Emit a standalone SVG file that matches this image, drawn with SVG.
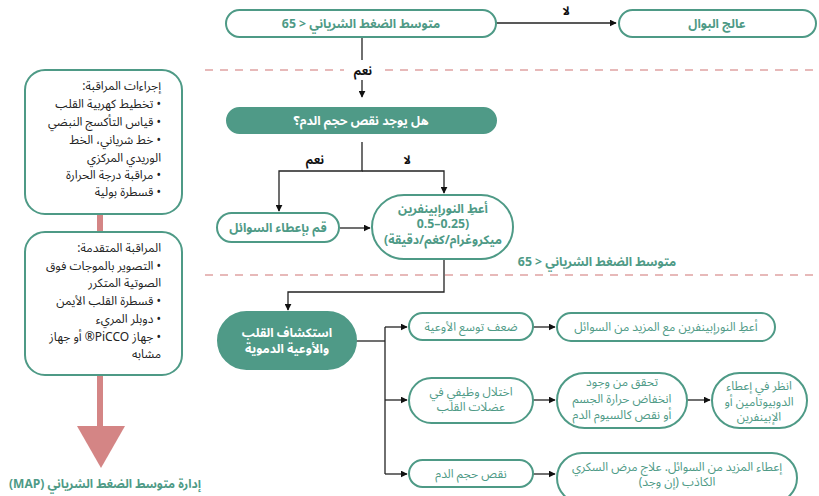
<svg xmlns="http://www.w3.org/2000/svg" width="819" height="496" viewBox="0 0 819 496">
<defs>
<style>
text{font-family:"Noto Sans Arabic","Noto Sans","DejaVu Sans",sans-serif;}
.n{fill:#fff;stroke:#4e9a86;stroke-width:2;}
.f{fill:#4f9a87;stroke:#4f9a87;stroke-width:2;}
.tl{fill:#4e9a86;font-size:12.3px;font-weight:bold;text-anchor:middle;}
.tw{fill:#fff;font-size:12.3px;font-weight:bold;text-anchor:middle;}
.tr{fill:#4e9a86;font-size:12px;text-anchor:middle;}
.lb{fill:#111;font-size:12px;font-weight:bold;text-anchor:middle;}
.pl{fill:#222;font-size:12px;}
.c{fill:none;stroke:#222;stroke-width:1.3;}
.d{fill:none;stroke:#e0a3a3;stroke-width:1.5;stroke-dasharray:8 7;}
</style>
<marker id="a" viewBox="0 0 10 10" refX="9" refY="5" markerWidth="7" markerHeight="7" orient="auto" markerUnits="userSpaceOnUse">
<path d="M0,0 L10,5 L0,10 z" fill="#111"/>
</marker>
</defs>
<rect width="819" height="496" fill="#fff"/>

<g id="guides">
<line class="d" x1="205" y1="70" x2="819" y2="70"/>
<line class="d" x1="205" y1="275" x2="819" y2="275"/>
</g>

<g id="connectors">
<line class="c" x1="496" y1="23" x2="616" y2="23" marker-end="url(#a)"/>
<line class="c" x1="362" y1="37" x2="362" y2="97" marker-end="url(#a)"/>
<polyline class="c" points="362,142 362,171 279,171 279,211" marker-end="url(#a)"/>
<polyline class="c" points="362,171 444,171 444,193" marker-end="url(#a)"/>
<line class="c" x1="340" y1="228" x2="370" y2="228" marker-end="url(#a)"/>
<polyline class="c" points="444,259 444,292 288,292 288,310" marker-end="url(#a)"/>
<polyline class="c" points="356,341 385,341"/>
<line class="c" x1="385" y1="327" x2="385" y2="474"/>
<line class="c" x1="385" y1="327" x2="407" y2="327" marker-end="url(#a)"/>
<line class="c" x1="385" y1="400" x2="407" y2="400" marker-end="url(#a)"/>
<line class="c" x1="385" y1="474" x2="407" y2="474" marker-end="url(#a)"/>
<line class="c" x1="533" y1="327" x2="555" y2="327" marker-end="url(#a)"/>
<line class="c" x1="533" y1="400" x2="555" y2="400" marker-end="url(#a)"/>
<line class="c" x1="533" y1="474" x2="555" y2="474" marker-end="url(#a)"/>
<line class="c" x1="687" y1="400" x2="710" y2="400" marker-end="url(#a)"/>
<rect x="344" y="60" width="38" height="20" fill="#fff"/>
<text class="lb" x="363" y="75">نعم</text>
<text class="lb" x="566" y="15">لا</text>
<text class="lb" x="315" y="164">نعم</text>
<text class="lb" x="407" y="164">لا</text>
<text class="tl" x="597" y="266" direction="rtl">متوسط الضغط الشرياني &lt; 65</text>
</g>

<g id="map1">
<rect class="n" x="226" y="10" width="270" height="27" rx="13.5"/>
<text class="tl" x="361" y="28" direction="rtl">متوسط الضغط الشرياني &lt; 65</text>
</g>
<g id="polyuria">
<rect class="n" x="619" y="10" width="197" height="27" rx="13.5"/>
<text class="tl" x="717" y="28">عالج البوال</text>
</g>
<g id="hypovolemia-q">
<rect class="f" x="227" y="108" width="269" height="25" rx="12.5"/>
<text class="tw" x="361" y="125" direction="rtl">هل يوجد نقص حجم الدم؟</text>
</g>
<g id="fluids">
<rect class="n" x="217" y="213" width="122" height="29" rx="14.5"/>
<text class="tl" x="278" y="232">قم بإعطاء السوائل</text>
</g>
<g id="norepi">
<rect class="n" x="372" y="195" width="141" height="64" rx="32"/>
<text class="tl" x="443" y="213">أعطِ النورإبينفرين</text>
<text class="tl" x="443" y="228" direction="rtl">(0.25–0.5</text>
<text class="tl" x="443" y="244" direction="rtl">ميكروغرام/كغم/دقيقة)</text>
</g>
<g id="cardio">
<rect class="f" x="218" y="312" width="138" height="57" rx="28.5"/>
<text class="tw" x="287" y="337">استكشاف القلب</text>
<text class="tw" x="287" y="353">والأوعية الدموية</text>
</g>
<g id="vasoplegia">
<rect class="n" x="409" y="313" width="124" height="27" rx="13.5"/>
<text class="tr" x="471" y="331">ضعف توسع الأوعية</text>
</g>
<g id="myocardial">
<rect class="n" x="409" y="378" width="124" height="45" rx="22.5"/>
<text class="tr" x="471" y="396">اختلال وظيفي في</text>
<text class="tr" x="471" y="411">عضلات القلب</text>
</g>
<g id="hypovolemia">
<rect class="n" x="409" y="460" width="124" height="27" rx="13.5"/>
<text class="tr" x="471" y="478">نقص حجم الدم</text>
</g>
<g id="norepi-fluids">
<rect class="n" x="557" y="313" width="218" height="28" rx="14"/>
<text class="tr" x="666" y="331">أعطِ النورإبينفرين مع المزيد من السوائل</text>
</g>
<g id="hypothermia">
<rect class="n" x="557" y="373" width="130" height="55" rx="27.5"/>
<text class="tr" x="622" y="386">تحقق من وجود</text>
<text class="tr" x="622" y="403">انخفاض حرارة الجسم</text>
<text class="tr" x="622" y="419">أو نقص كالسيوم الدم</text>
</g>
<g id="dobutamine">
<rect class="n" x="712" y="373" width="95" height="55" rx="27.5"/>
<text class="tr" x="759" y="390">انظر في إعطاء</text>
<text class="tr" x="759" y="406">الدوبيوتامين أو</text>
<text class="tr" x="759" y="421">الإبينفرين</text>
</g>
<g id="more-fluids">
<rect class="n" x="557" y="453" width="240" height="50" rx="25"/>
<text class="tr" x="677" y="471">إعطاء المزيد من السوائل. علاج مرض السكري</text>
<text class="tr" x="677" y="486" direction="rtl">الكاذب (إن وجد)</text>
</g>

<g id="map-management">
<rect x="97" y="212" width="6" height="20" fill="#d48585"/>
<rect x="97" y="375" width="6" height="52" fill="#d48585"/>
<polygon points="77,426 125,426 101,468" fill="#d48585"/>
<text class="tl" x="105" y="488" style="font-size:12px">(MAP) إدارة متوسط الضغط الشرياني</text>
</g>
<g id="monitoring">
<rect class="n" x="25" y="70" width="157" height="144" rx="20"/>
<text class="pl" direction="rtl" x="161" y="90">إجراءات المراقبة:</text>
<text class="pl" direction="rtl" x="161" y="108">• تخطيط كهربية القلب</text>
<text class="pl" direction="rtl" x="161" y="126">• قياس التأكسج النبضي</text>
<text class="pl" direction="rtl" x="161" y="144">• خط شرياني، الخط</text>
<text class="pl" direction="rtl" x="161" y="162">الوريدي المركزي</text>
<text class="pl" direction="rtl" x="161" y="179">• مراقبة درجة الحرارة</text>
<text class="pl" direction="rtl" x="161" y="196">• قسطرة بولية</text>
</g>
<g id="advanced">
<rect class="n" x="25" y="232" width="157" height="143" rx="20"/>
<text class="pl" direction="rtl" x="161" y="252">المراقبة المتقدمة:</text>
<text class="pl" direction="rtl" x="161" y="270">• التصوير بالموجات فوق</text>
<text class="pl" direction="rtl" x="161" y="287">الصوتية المتكرر</text>
<text class="pl" direction="rtl" x="161" y="305">• قسطرة القلب الأيمن</text>
<text class="pl" direction="rtl" x="161" y="323">• دوبلر المريء</text>
<text class="pl" direction="rtl" x="161" y="341">• جهاز PiCCO® أو جهاز</text>
<text class="pl" direction="rtl" x="161" y="358">مشابه</text>
</g>
</svg>
